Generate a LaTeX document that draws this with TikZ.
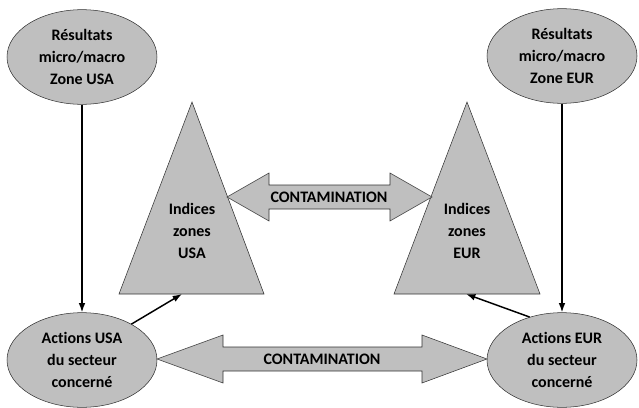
\documentclass[tikz,border=0pt]{standalone}
\usepackage{fontspec}
\setmainfont{Carlito}[Ligatures=NoCommon]
\usetikzlibrary{shapes.geometric,arrows.meta}
\definecolor{fondgris}{RGB}{191,191,191}
\tikzset{
  bulle/.style={ellipse,draw=black!80,fill=fondgris,minimum width=112.5pt,minimum height=71pt,inner sep=0pt,align=center,font=\bfseries\fontsize{12}{16.5}\selectfont},
  texte/.style={align=center,inner sep=0pt,font=\bfseries\fontsize{12}{16.5}\selectfont},
  forme/.style={draw=black!80,fill=fondgris},
  lien/.style={-{Latex[length=7pt,width=5pt]},line width=1.1pt}
}
\begin{document}
\begin{tikzpicture}[x=0.75pt,y=-0.75pt]
	\useasboundingbox (0,0) rectangle (639,407);
	% zones
	\node[bulle] (resUSA) at (82,57) {Résultats\\micro/macro\\Zone USA};
	\node[bulle] (resEUR) at (562,56) {Résultats\\micro/macro\\Zone EUR};
	\node[bulle] (actUSA) at (82,360) {Actions USA\\du secteur\\concerné};
	\node[bulle] (actEUR) at (562,360) {Actions EUR\\du secteur\\concerné};
	% indices
	\draw[forme] (192,102) -- (264,294) -- (119,294) -- cycle;
	\coordinate (baseUSA) at (182,294);
	\node[texte] (idxUSA) at (192,231) {Indices\\zones\\USA};
	\draw[forme] (467,102) -- (540,294) -- (394,294) -- cycle;
	\coordinate (baseEUR) at (466,294);
	\node[texte] (idxEUR) at (467,231) {Indices\\zones\\EUR};
	% contamination
	\draw[forme] (227,197) -- (269,173) -- (269,185) -- (390,185) -- (390,173) -- (432,197)
		-- (390,221) -- (390,209) -- (269,209) -- (269,221) -- cycle;
	\node[texte] (contHaut) at (329,197) {CONTAMINATION};
	\draw[forme] (157,359) -- (223,335) -- (223,347) -- (422,347) -- (422,335) -- (487,359)
		-- (422,383) -- (422,371) -- (223,371) -- (223,383) -- cycle;
	\node[texte] (contBas) at (322,359) {CONTAMINATION};
	% liens
	\draw[lien] (resUSA) -- (actUSA);
	\draw[lien] (resEUR) -- (actEUR);
	\draw[lien] (actUSA.36) -- (baseUSA);
	\draw[lien] (actEUR.127) -- (baseEUR);
\end{tikzpicture}
\end{document}
